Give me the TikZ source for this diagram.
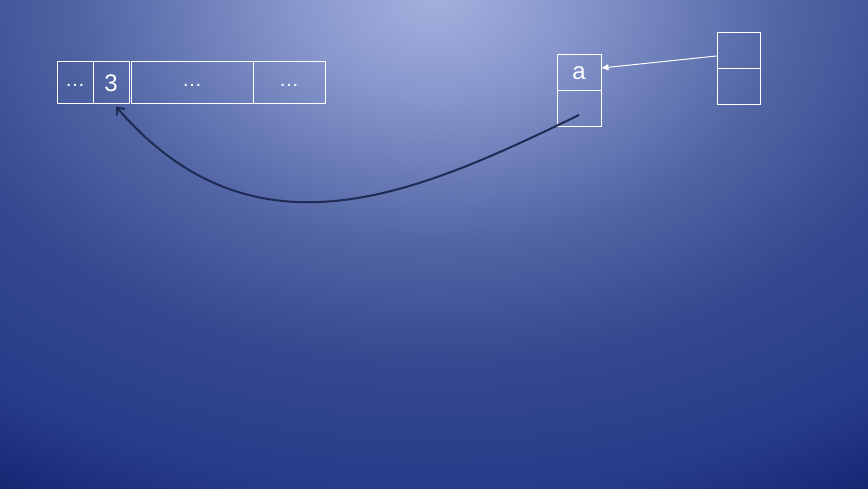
\documentclass[tikz,border=0pt]{standalone}
\usepackage{fontspec}
\setmainfont{Liberation Sans}
\usetikzlibrary{arrows.meta}

\definecolor{bgA}{HTML}{A3AFDD}
\definecolor{bgB}{HTML}{8796CC}
\definecolor{bgC}{HTML}{5165A5}
\definecolor{bgD}{HTML}{34498F}
\definecolor{bgE}{HTML}{283D8A}
\definecolor{bgF}{HTML}{132470}
\definecolor{bgG}{HTML}{0A185C}
\definecolor{curvecol}{HTML}{1E2B52}

\pgfdeclareradialshading{slidebg}{\pgfpointorigin}{%
  color(0bp)=(bgA); color(5bp)=(bgB); color(12.5bp)=(bgC);
  color(18.5bp)=(bgD); color(25bp)=(bgE); color(30bp)=(bgF);
  color(38bp)=(bgG)}

\tikzset{
  cell/.style={draw=white, line width=1pt, inner sep=0pt, text=white,
    minimum height=42pt, font=\fontsize{24}{28}\selectfont},
  dots/.style={font=\fontsize{20}{24}\selectfont, text height=7pt, text depth=0pt},
  slot/.style={cell, minimum width=44pt, minimum height=36pt},
  ref/.style={white, line width=1pt, -{Triangle[length=7pt,width=6pt]}},
  jump/.style={curvecol, line width=2pt, -{Straight Barb[length=6pt,width=10pt]}}
}

\begin{document}
\begin{tikzpicture}[x=1pt, y={(0pt,-1pt)}]
  \def\Yrow{83};
  \useasboundingbox (0,0) rectangle (868,489);
  \begin{scope}
    \clip (0,0) rectangle (868,489);
    \shade[shading=slidebg] (-266,-489) rectangle (1134,489);
  \end{scope}

  % array cells
  \node[cell, dots, minimum width=36pt]  (c1) at (75, \Yrow) {…};
  \node[cell, minimum width=36pt]        (c2) at (111, \Yrow) {3};
  \node[cell, dots, minimum width=122pt] (c3) at (192, \Yrow) {…};
  \node[cell, dots, minimum width=72pt]  (c4) at (289, \Yrow) {…};

  % variable a
  \node[slot] (atop) at (579, 73) {a};
  \node[slot] (abot) at (579, 109) {};

  % outer frame
  \node[slot, minimum width=43pt] (rtop) at (738.5, 51) {};
  \node[slot, minimum width=43pt] (rbot) at (738.5, 87) {};

  \draw[ref] ([yshift=-5pt]rtop.west) -- ([yshift=5pt]atop.east);

  \draw[jump] ([yshift=-6pt]abot.center)
    .. controls (420, 192) and (255, 268) .. ([xshift=5pt, yshift=-2pt]c2.south);
\end{tikzpicture}
\end{document}
